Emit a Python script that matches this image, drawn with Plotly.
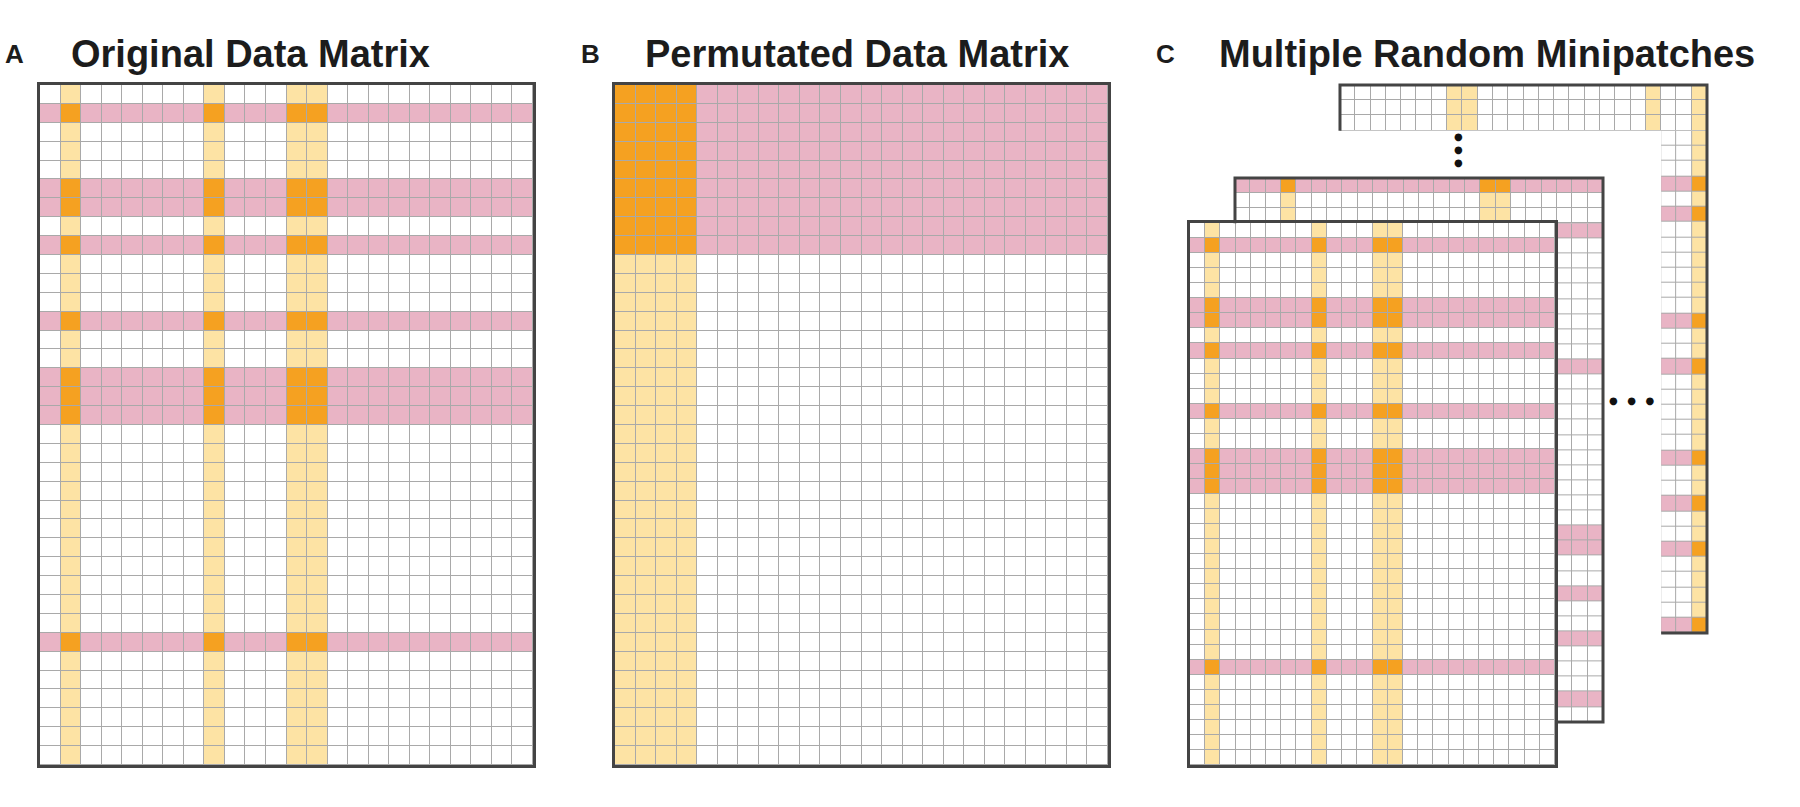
import numpy as np
import plotly.graph_objects as go

# ---------------- data ----------------
N_ROWS = 36
N_COLS = 24

# Panel A (and the front minipatch): original data matrix
ORIG_PINK_ROWS = [1, 5, 6, 8, 12, 15, 16, 17, 29]
ORIG_YELLOW_COLS = [1, 8, 12, 13]
# Panel B: permutated data matrix
PERM_PINK_ROWS = [0, 1, 2, 3, 4, 5, 6, 7, 8]
PERM_YELLOW_COLS = [0, 1, 2, 3]
# Panel C: middle minipatch
MID_PINK_ROWS = [0, 3, 12, 23, 24, 27, 30, 34]
MID_YELLOW_COLS = [3, 16, 17]
# Panel C: back minipatch
BACK_PINK_ROWS = [6, 8, 15, 18, 24, 27, 30, 35]
BACK_YELLOW_COLS = [7, 8, 20, 23]

LABELS = ["A", "B", "C"]
TITLES = ["Original Data Matrix", "Permutated Data Matrix", "Multiple Random Minipatches"]

# ---------------- style / layout ----------------
W, H = 1800, 807
WHITE = "#ffffff"
YELLOW = "#fde3a4"
PINK = "#e9b4c5"
ORANGE = "#f5a121"
GRID = "#a9a9a9"
FRAME = "#444444"
TEXT = "#1c1c1c"
FONT = "Liberation Sans, Arial, sans-serif"

CS = [[0.0, WHITE], [0.166, WHITE], [0.167, YELLOW], [0.499, YELLOW],
      [0.5, PINK], [0.832, PINK], [0.834, ORANGE], [1.0, ORANGE]]

BOX_A = (40, 85, 533, 765)
BOX_B = (615, 85, 1108, 765)
BOX_FRONT = (1190, 223, 1555, 765)
BOX_MID = (1235, 178, 1603, 722)
BOX_BACK = (1340, 85, 1707, 633)
STRIP = 3

LABEL_X = [26, 602, 1177]
TITLE_X = [69, 643, 1217]
TITLE_Y = 54

VDOTS_X, VDOTS_Y = 1458, 150
HDOTS_X, HDOTS_Y = 1632, 400


def matrix(pink_rows, yellow_cols):
    z = np.zeros((N_ROWS, N_COLS))
    z[:, yellow_cols] = 1
    z[pink_rows, :] = 2
    z[np.ix_(pink_rows, yellow_cols)] = 3
    return z


fig = go.Figure()
axes = {}
shapes = []
counter = [0]


def px_x(x):
    return x / W


def px_y(y):
    return 1 - y / H


def add_block(z, box, r0, r1, c0, c1, frame):
    x0, y0, x1, y1 = box
    cw = (x1 - x0) / N_COLS
    ch = (y1 - y0) / N_ROWS
    sx0, sy0, sx1, sy1 = x0 + c0 * cw, y0 + r0 * ch, x0 + c1 * cw, y0 + r1 * ch
    counter[0] += 1
    i = counter[0]
    suf = "" if i == 1 else str(i)
    xa, ya = "x" + suf, "y" + suf
    fig.add_trace(go.Heatmap(
        z=z[r0:r1, c0:c1], x=list(range(c0, c1)), y=list(range(r0, r1)),
        xaxis=xa, yaxis=ya, zmin=0, zmax=3, colorscale=CS, showscale=False,
        xgap=1, ygap=1, hoverinfo="skip"))
    common = dict(showticklabels=False, showgrid=False, zeroline=False, ticks="",
                  showline=frame, mirror=frame, linecolor=FRAME, linewidth=3,
                  fixedrange=True)
    axes["xaxis" + suf] = dict(domain=[px_x(sx0), px_x(sx1)], range=[c0 - 0.5, c1 - 0.5],
                               anchor=ya, **common)
    axes["yaxis" + suf] = dict(domain=[px_y(sy1), px_y(sy0)], range=[r1 - 0.5, r0 - 0.5],
                               anchor=xa, **common)


def add_L(z, box):
    x0, y0, x1, y1 = box
    cw = (x1 - x0) / N_COLS
    ch = (y1 - y0) / N_ROWS
    add_block(z, box, 0, STRIP, 0, N_COLS, False)
    add_block(z, box, STRIP, N_ROWS, N_COLS - STRIP, N_COLS, False)
    pts = [(x0, y0 + STRIP * ch), (x0, y0), (x1, y0), (x1, y1), (x1 - STRIP * cw, y1)]
    path = "M " + " L ".join(f"{px_x(a):.5f},{px_y(b):.5f}" for a, b in pts)
    shapes.append(dict(type="path", xref="paper", yref="paper", path=path,
                       line=dict(color=FRAME, width=3)))


# Panel A
add_block(matrix(ORIG_PINK_ROWS, ORIG_YELLOW_COLS), BOX_A, 0, N_ROWS, 0, N_COLS, True)
# Panel B
add_block(matrix(PERM_PINK_ROWS, PERM_YELLOW_COLS), BOX_B, 0, N_ROWS, 0, N_COLS, True)
# Panel C: back, middle, front
add_L(matrix(BACK_PINK_ROWS, BACK_YELLOW_COLS), BOX_BACK)
add_L(matrix(MID_PINK_ROWS, MID_YELLOW_COLS), BOX_MID)
add_block(matrix(ORIG_PINK_ROWS, ORIG_YELLOW_COLS), BOX_FRONT, 0, N_ROWS, 0, N_COLS, True)

annotations = []
for lab, lx, title, tx in zip(LABELS, LABEL_X, TITLES, TITLE_X):
    annotations.append(dict(text=f"<b>{lab}</b>", x=px_x(lx), y=px_y(TITLE_Y), xref="paper",
                            yref="paper", xanchor="right", yanchor="middle", showarrow=False,
                            font=dict(family=FONT, size=26, color=TEXT)))
    annotations.append(dict(text=f"<b>{title}</b>", x=px_x(tx), y=px_y(TITLE_Y), xref="paper",
                            yref="paper", xanchor="left", yanchor="middle", showarrow=False,
                            font=dict(family=FONT, size=38, color=TEXT)))

# ellipsis marks between minipatches
dot_font = dict(family="DejaVu Sans", size=10, color="#111111")
annotations.append(dict(text="●<br>●<br>●", x=px_x(VDOTS_X), y=px_y(VDOTS_Y), xref="paper",
                        yref="paper", xanchor="center", yanchor="middle", showarrow=False,
                        font=dot_font))
annotations.append(dict(text="●&nbsp;&nbsp;&nbsp;●&nbsp;&nbsp;&nbsp;●", x=px_x(HDOTS_X),
                        y=px_y(HDOTS_Y), xref="paper", yref="paper", xanchor="center",
                        yanchor="middle", showarrow=False, font=dot_font))

fig.update_layout(
    width=W, height=H, margin=dict(l=0, r=0, t=0, b=0),
    paper_bgcolor="white", plot_bgcolor=GRID, showlegend=False,
    annotations=annotations, shapes=shapes, **axes)

fig.write_html("out.html", config={"displayModeBar": False},
               post_script="document.body.style.margin='0';document.body.style.overflow='hidden';")
